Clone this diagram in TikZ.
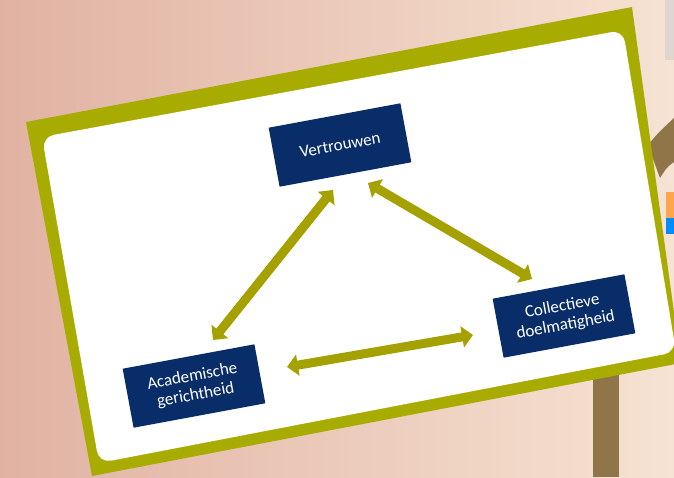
\documentclass[tikz,border=0pt]{standalone}
\usepackage{fontspec}
\setmainfont{Carlito}
\usetikzlibrary{arrows.meta,positioning,calc}
\definecolor{signgreen}{RGB}{169,172,0}
\definecolor{arrowgreen}{RGB}{164,161,0}
\definecolor{boxnavy}{RGB}{8,45,104}
\definecolor{postbrown}{RGB}{143,117,72}
\definecolor{bgleft}{RGB}{225,178,162}
\definecolor{bgmid}{RGB}{237,202,181}
\definecolor{bgright}{RGB}{246,227,211}
\definecolor{wallgrey}{RGB}{221,215,207}
\tikzset{
  >=Stealth,
  every node/.append style={font=\fontsize{17}{19}\selectfont},
}
\tikzset{
  concept/.style={fill=boxnavy, text=white, draw=none, align=center,
                  minimum width=134pt, minimum height=60pt, inner sep=2pt, rotate=10.5},
  link/.style={{Triangle[length=11pt,width=21pt]}-{Triangle[length=11pt,width=21pt]},
               draw=arrowgreen, line width=9pt}
}
\begin{document}
\begin{tikzpicture}[
  x=1pt, y=-1pt,
  signframe/.style={fill=signgreen, draw=none},
  signface/.style ={fill=white, draw=none, rounded corners=12pt},
  wood/.style     ={fill=postbrown, draw=none}
]

% Background wall
\clip (0,0) rectangle (674,477);
\fill[left color=bgleft, middle color=bgmid, right color=bgright] (0,0) rectangle (674,477);

% Bits of scenery at the right edge
\fill[wallgrey] (665,0) rectangle (674,60);
\fill[orange!70] (666,192) rectangle (674,218);
\fill[blue!45!cyan] (666,218) rectangle (674,234);
\fill[wood] (648,145) .. controls (658,133) .. (674,118) -- (674,162)
            .. controls (667,167) .. (660,178) -- cycle;
\fill[wood] (593,330) rectangle (619,477);

% Sign board
\fill[signframe] (26,122) -- (632,7) -- (681,363) -- (92,476) -- cycle;
\fill[signface] (42,137) -- (623,30) -- (676,352) -- (99,463) -- cycle;

% Concept boxes
\node[concept] (vert) at (340,145) {Vertrouwen};
\node[concept] (acad) at (194,386) {Academische\\gerichtheid};
\node[concept] (coll) at (564,316) {Collectieve\\doelmatigheid};

% Two-way links
\draw[link] ([shift={(19,-46)}]acad.center) -- ([shift={(-7,45)}]vert.center);
\draw[link] ([shift={(28,38)}]vert.center) -- ([shift={(-32,-37)}]coll.center);
\draw[link] ([shift={(93,-19)}]acad.center) -- ([shift={(-91,19)}]coll.center);

\end{tikzpicture}
\end{document}
